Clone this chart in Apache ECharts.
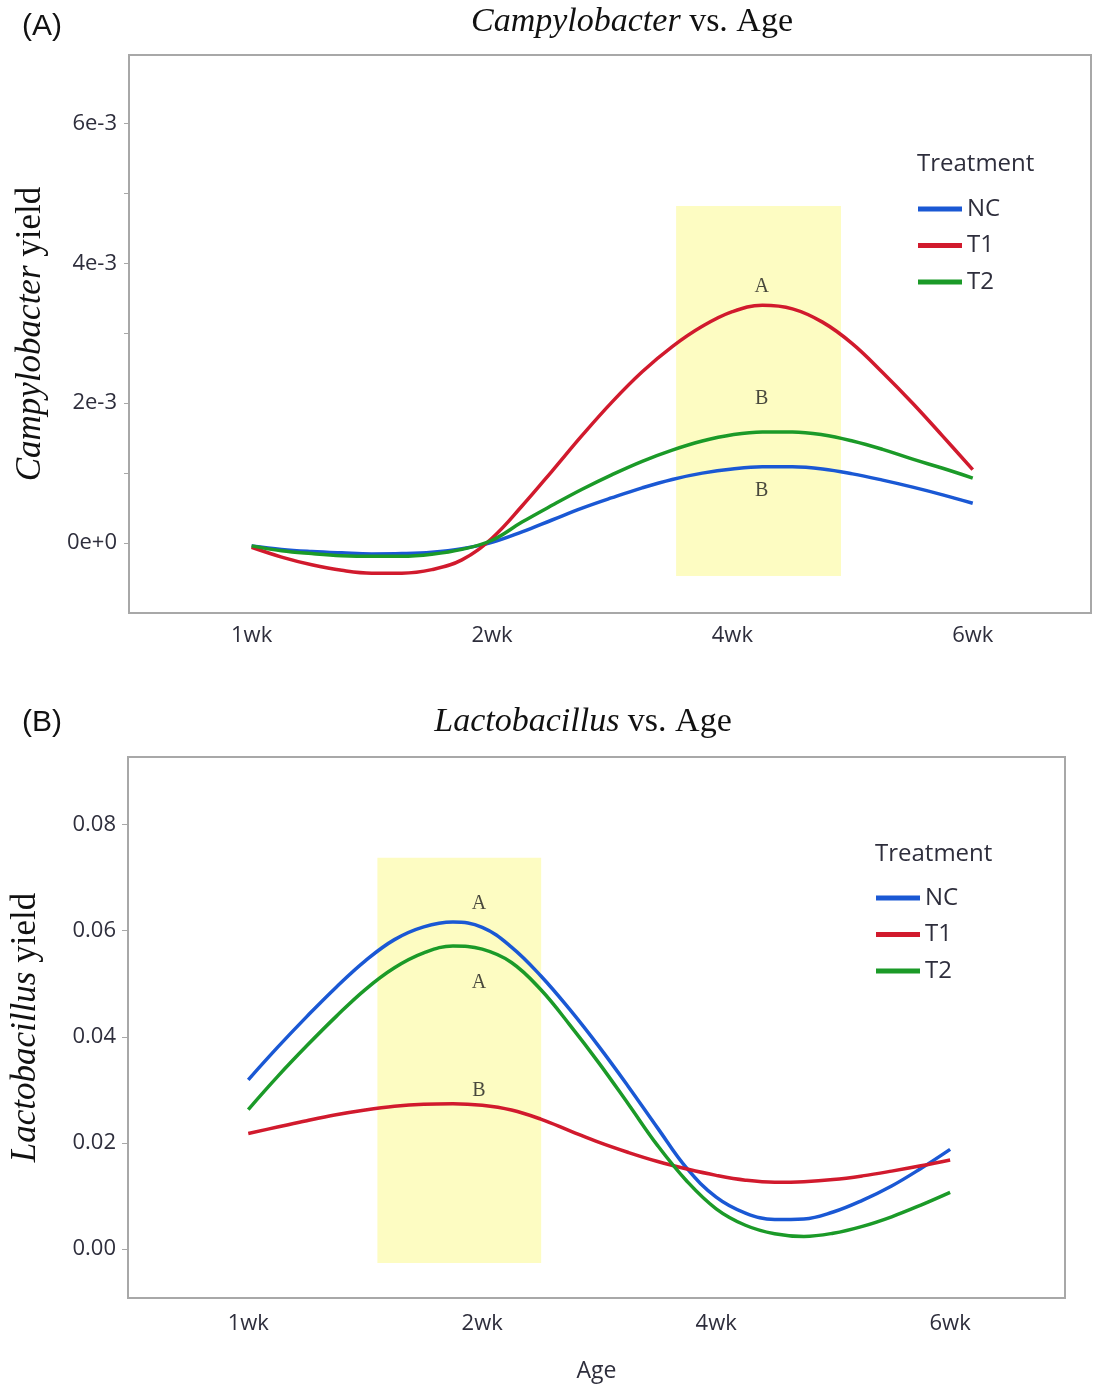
<!DOCTYPE html>
<html>
<head>
<meta charset="utf-8">
<script src="https://cdn.jsdelivr.net/npm/echarts@6/dist/echarts.min.js"></script>
<style>
html,body{margin:0;padding:0;background:#fff;}
#chart{width:1097px;height:1385px;}
</style>
</head>
<body>
<div id="chart"></div>
<script>
// Age positions (0 = 1wk, 1 = 2wk, 2 = 4wk, 3 = 6wk), every 1/8 step
const ages = [0, 0.125, 0.25, 0.375, 0.5, 0.625, 0.75, 0.875, 1, 1.125, 1.25, 1.375, 1.5,
              1.625, 1.75, 1.875, 2, 2.125, 2.25, 2.375, 2.5, 2.625, 2.75, 2.875, 3];
const ageTicks = [0, 1, 2, 3];
const ageLabels = ['1wk', '2wk', '4wk', '6wk'];
const treatments = ['NC', 'T1', 'T2'];

// Panel A: Campylobacter yield
const campyNC = [-0.00004, -0.00009, -0.00012, -0.00014, -0.000155, -0.00015, -0.00013, -0.00008, 0.00001,
                 0.00016, 0.00033, 0.0005, 0.00065, 0.00079, 0.00091, 0.001, 0.00106, 0.00109, 0.00109,
                 0.00106, 0.00099, 0.0009, 0.0008, 0.00069, 0.00057];
const campyT1 = [-0.00006, -0.0002, -0.00031, -0.00039, -0.00043, -0.00043, -0.00038, -0.00024, 0.00007,
                 0.00053, 0.00103, 0.00154, 0.00202, 0.00245, 0.00281, 0.0031, 0.00331, 0.0034, 0.00335,
                 0.00316, 0.00285, 0.00244, 0.002, 0.00153, 0.00105];
const campyT2 = [-0.00004, -0.00011, -0.00015, -0.00018, -0.00019, -0.00019, -0.00016, -0.00009, 0.00004,
                 0.0003, 0.00054, 0.00077, 0.00098, 0.00117, 0.00133, 0.00146, 0.00155, 0.00159, 0.00159,
                 0.00155, 0.00146, 0.00134, 0.0012, 0.00107, 0.00093];
const campyTickValues = [0, 0.001, 0.002, 0.003, 0.004, 0.005, 0.006];
const campyLabelValues = [0, 0.002, 0.004, 0.006];
const campyLabelText = ['0e+0', '2e-3', '4e-3', '6e-3'];
const campyHighlight = [1.766, 2.452, -0.00047, 0.00482];
const campyLetters = [[2.122, 0.00367, 'A'], [2.122, 0.00206, 'B'], [2.122, 0.00075, 'B']];

// Panel B: Lactobacillus yield
const lactoNC = [0.0319, 0.038, 0.0438, 0.0493, 0.0543, 0.0583, 0.0607, 0.0616, 0.0606,
                 0.0569, 0.0515, 0.0451, 0.0381, 0.0306, 0.0228, 0.0152, 0.0098, 0.0068, 0.0056,
                 0.0057, 0.007, 0.0092, 0.0119, 0.0152, 0.0188];
const lactoT1 = [0.0218, 0.023, 0.0242, 0.0253, 0.0262, 0.0269, 0.0273, 0.0274, 0.0271,
                 0.0262, 0.0245, 0.0223, 0.0201, 0.0182, 0.0165, 0.0151, 0.0139, 0.013, 0.0126,
                 0.0127, 0.0131, 0.0138, 0.0147, 0.0157, 0.0168];
const lactoT2 = [0.0263, 0.0325, 0.0383, 0.0438, 0.0489, 0.053, 0.0558, 0.0571, 0.0565,
                 0.054, 0.0489, 0.0422, 0.035, 0.0273, 0.0195, 0.0128, 0.0076, 0.0045, 0.0029,
                 0.0024, 0.003, 0.0043, 0.0061, 0.0083, 0.0107];
const lactoLabelValues = [0, 0.02, 0.04, 0.06, 0.08];
const lactoLabelText = ['0.00', '0.02', '0.04', '0.06', '0.08'];
const lactoHighlight = [0.552, 1.252, -0.0026, 0.0737];
const lactoLetters = [[0.986, 0.0651, 'A'], [0.986, 0.0502, 'A'], [0.986, 0.0298, 'B']];

const colors = {NC: '#1a58d4', T1: '#d11a2d', T2: '#1b9a28'};
const sansFont = '"Open Sans", "Noto Sans", sans-serif';
const serifFont = '"Liberation Serif", "DejaVu Serif", serif';
const tickColor = '#2e2e3c';

function pairs(xs, ys) { return xs.map((x, i) => [x, ys[i]]); }

function xAxisFor(gridIndex, min, max, margin, extra) {
  return Object.assign({
    type: 'value', gridIndex: gridIndex, min: min, max: max,
    axisLine: {show: false, onZero: false}, splitLine: {show: false},
    axisTick: {show: false},
    axisLabel: {
      customValues: ageTicks, color: tickColor, fontFamily: sansFont, fontSize: 22, margin: margin,
      formatter: v => ageLabels[Math.round(v)]
    }
  }, extra || {});
}

function lineSeries(name, xi, yi, data) {
  return {
    name: name, type: 'line', xAxisIndex: xi, yAxisIndex: yi,
    data: pairs(ages, data), smooth: 0.4, showSymbol: false, symbol: 'none',
    lineStyle: {color: colors[name], width: 3.5}, itemStyle: {color: colors[name]},
    z: 5, silent: true
  };
}

function areaSeries(xi, yi, h) {
  return {
    type: 'line', xAxisIndex: xi, yAxisIndex: yi, data: [], z: 1, silent: true,
    markArea: {
      silent: true,
      itemStyle: {color: '#fdfcc2'},
      data: [[{coord: [h[0], h[3]]}, {coord: [h[1], h[2]]}]]
    }
  };
}

function letterSeries(xi, yi, letters) {
  return {
    type: 'scatter', xAxisIndex: xi, yAxisIndex: yi, symbolSize: 1, z: 6, silent: true,
    itemStyle: {color: 'rgba(0,0,0,0)'},
    data: letters.map(l => [l[0], l[1], l[2]]),
    label: {
      show: true, position: 'inside', formatter: p => p.data[2],
      fontFamily: serifFont, fontSize: 20, color: '#1a1a1a'
    }
  };
}

function yName(fontSize) {
  return {
    fontFamily: serifFont, fontSize: fontSize, color: '#111',
    rich: {
      i: {fontFamily: serifFont, fontSize: fontSize, fontStyle: 'italic', color: '#111'},
      n: {fontFamily: serifFont, fontSize: fontSize, color: '#111'}
    }
  };
}

const chart = echarts.init(document.getElementById('chart'), null, {renderer: 'canvas'});

const legendText = {fontFamily: sansFont, fontSize: 24, color: tickColor, lineHeight: 22};

const option = {
  backgroundColor: '#ffffff',
  animation: false,
  grid: [
    {left: 129, top: 55, width: 962, height: 558, show: true, borderColor: '#a8a8a8', borderWidth: 2, backgroundColor: 'transparent'},
    {left: 127, top: 757, width: 938, height: 541, show: true, borderColor: '#a8a8a8', borderWidth: 2, backgroundColor: 'transparent'}
  ],
  xAxis: [
    xAxisFor(0, -0.51, 3.492, 12),
    xAxisFor(1, -0.514, 3.491, 15, {
      name: 'Age', nameLocation: 'middle', nameGap: 62,
      nameTextStyle: {fontFamily: sansFont, fontSize: 23, color: tickColor}
    })
  ],
  yAxis: [
    {
      type: 'value', gridIndex: 0, min: -0.001, max: 0.00698,
      axisLine: {show: false, onZero: false}, splitLine: {show: false},
      axisTick: {show: true, customValues: campyTickValues, length: 5, lineStyle: {color: '#a8a8a8'}},
      axisLabel: {
        customValues: campyLabelValues, color: tickColor, fontFamily: sansFont, fontSize: 22, margin: 12,
        formatter: v => campyLabelText[campyLabelValues.findIndex(c => Math.abs(c - v) < 1e-7)]
      },
      name: '{i|Campylobacter} {n|yield}', nameLocation: 'middle', nameRotate: 90, nameGap: 81,
      nameTextStyle: yName(35)
    },
    {
      type: 'value', gridIndex: 1, min: -0.0092, max: 0.0927,
      axisLine: {show: false, onZero: false}, splitLine: {show: false},
      axisTick: {show: true, customValues: lactoLabelValues, length: 6, lineStyle: {color: '#a8a8a8'}},
      axisLabel: {
        customValues: lactoLabelValues, color: tickColor, fontFamily: sansFont, fontSize: 22, margin: 12,
        formatter: v => lactoLabelText[lactoLabelValues.findIndex(c => Math.abs(c - v) < 1e-7)]
      },
      name: '{i|Lactobacillus} {n|yield}', nameLocation: 'middle', nameRotate: 90, nameGap: 85,
      nameTextStyle: yName(35)
    }
  ],
  legend: [
    {
      data: treatments, orient: 'vertical', left: 918, top: 197, padding: 0, itemWidth: 44, itemHeight: 5, itemGap: 12.5,
      icon: 'rect', selectedMode: false, textStyle: legendText
    },
    {
      data: treatments, orient: 'vertical', left: 876, top: 886, padding: 0, itemWidth: 44, itemHeight: 5, itemGap: 12.5,
      icon: 'rect', selectedMode: false, textStyle: legendText
    }
  ],
  graphic: [
    {type: 'text', left: 22, top: 12, style: {text: '(A)', fontFamily: '"Liberation Sans", Arial, sans-serif', fontSize: 30, fill: '#111'}},
    {type: 'text', left: 22, top: 708, style: {text: '(B)', fontFamily: '"Liberation Sans", Arial, sans-serif', fontSize: 30, fill: '#111'}},
    {type: 'text', x: 632, y: 22, style: {
      text: '{i|Campylobacter}{n| vs. Age}', align: 'center', verticalAlign: 'middle',
      rich: {i: {fontFamily: serifFont, fontSize: 34, fontStyle: 'italic', fill: '#111'}, n: {fontFamily: serifFont, fontSize: 34, fill: '#111'}}
    }},
    {type: 'text', x: 583, y: 722, style: {
      text: '{i|Lactobacillus}{n| vs. Age}', align: 'center', verticalAlign: 'middle',
      rich: {i: {fontFamily: serifFont, fontSize: 34, fontStyle: 'italic', fill: '#111'}, n: {fontFamily: serifFont, fontSize: 34, fill: '#111'}}
    }},
    {type: 'text', left: 917, top: 152, style: {text: 'Treatment', fontFamily: sansFont, fontSize: 24, fill: tickColor}},
    {type: 'text', left: 875, top: 842, style: {text: 'Treatment', fontFamily: sansFont, fontSize: 24, fill: tickColor}}
  ],
  series: [
    areaSeries(0, 0, campyHighlight),
    lineSeries('NC', 0, 0, campyNC),
    lineSeries('T1', 0, 0, campyT1),
    lineSeries('T2', 0, 0, campyT2),
    letterSeries(0, 0, campyLetters),
    areaSeries(1, 1, lactoHighlight),
    lineSeries('NC', 1, 1, lactoNC),
    lineSeries('T1', 1, 1, lactoT1),
    lineSeries('T2', 1, 1, lactoT2),
    letterSeries(1, 1, lactoLetters)
  ]
};

chart.setOption(option);
</script>
</body>
</html>
